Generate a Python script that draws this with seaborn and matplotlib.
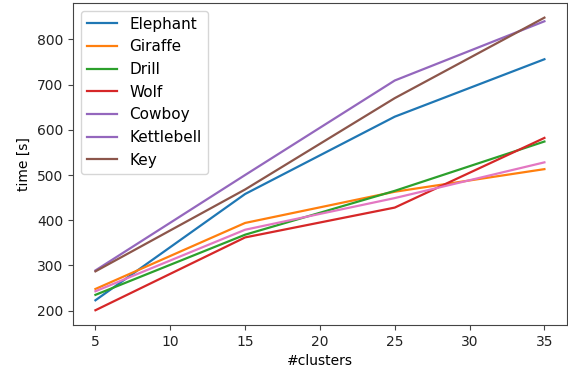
import pandas as pd
import matplotlib
matplotlib.use('Agg')
import matplotlib.pyplot as plt
from matplotlib.lines import Line2D
import seaborn as sns

clusters = [5, 15, 25, 35]
elephant = [223, 458, 629, 756]
giraffe = [248, 394, 463, 513]
drill = [235, 368, 465, 574]
wolf = [201, 362, 428, 582]
cowboy = [289, 500, 709, 840]
kettlebell = [243, 379, 449, 528]
key = [287, 468, 670, 848]

names = ['Elephant', 'Giraffe', 'Drill', 'Wolf', 'Cowboy', 'Kettlebell', 'Key']
series = [elephant, giraffe, drill, wolf, cowboy, kettlebell, key]
line_colors = ['tab:blue', 'tab:orange', 'tab:green', 'tab:red',
               'tab:purple', 'tab:pink', 'tab:brown']
legend_colors = ['tab:blue', 'tab:orange', 'tab:green', 'tab:red',
                 'tab:purple', 'tab:purple', 'tab:brown']

rows = []
for name, vals in zip(names, series):
    for c, v in zip(clusters, vals):
        rows.append({'clusters': c, 'time': v, 'name': name})
df = pd.DataFrame(rows)

fig, ax = plt.subplots(figsize=(5.68, 3.76), dpi=100)
sns.lineplot(data=df, x='clusters', y='time', hue='name', hue_order=names,
             palette=dict(zip(names, line_colors)), legend=False,
             linewidth=1.6, ax=ax)

handles = [Line2D([0], [0], color=c, lw=1.6) for c in legend_colors]
ax.legend(handles, names, loc='upper left', fontsize=11)

ax.set_xlabel('#clusters')
ax.set_ylabel('time [s]')
ax.set_xticks([5, 10, 15, 20, 25, 30, 35])
for s in ax.spines.values():
    s.set_color('#444444')
ax.tick_params(color='#444444', labelcolor='#222222')

plt.subplots_adjust(left=0.1285, right=0.998, top=0.992, bottom=0.136)
plt.savefig('out.png')
plt.close()
